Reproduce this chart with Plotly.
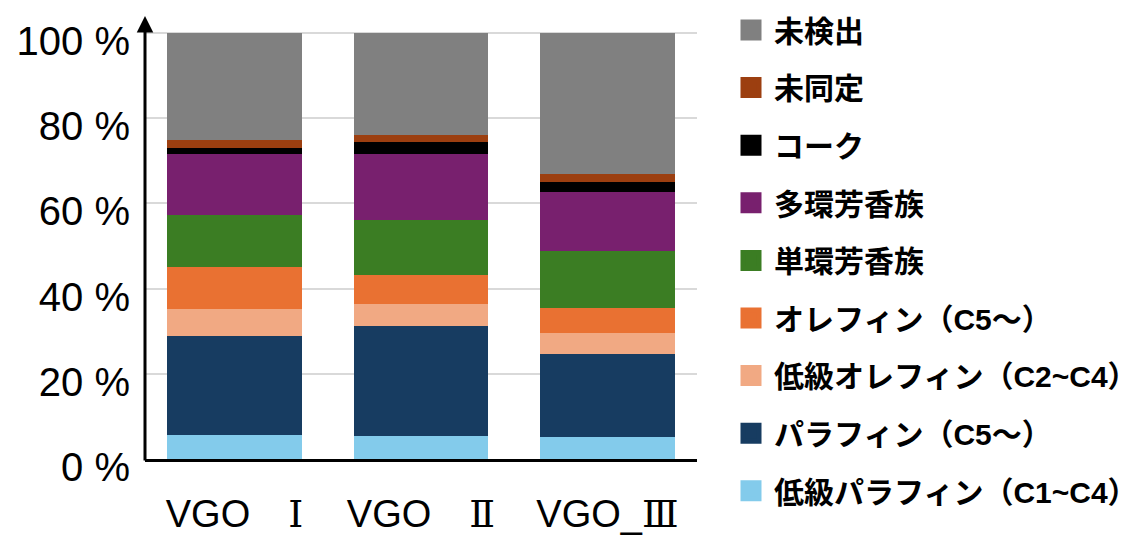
import plotly.graph_objects as go

# Feedstock categories (x axis)
categories = ["VGO　Ⅰ", "VGO　Ⅱ", "VGO_Ⅲ"]

# Product composition, % (bottom of stack first)
low_paraffin = [5.7, 5.4, 5.2]        # 低級パラフィン（C1~C4）
paraffin = [23.1, 25.8, 19.5]         # パラフィン（C5～）
low_olefin = [6.4, 5.2, 4.9]          # 低級オレフィン（C2~C4）
olefin = [9.8, 6.8, 5.8]              # オレフィン（C5～）
mono_aromatic = [12.3, 13.0, 13.4]    # 単環芳香族
poly_aromatic = [14.4, 15.5, 13.9]    # 多環芳香族
coke = [1.2, 2.7, 2.4]                # コーク
unidentified = [1.9, 1.6, 1.9]        # 未同定
undetected = [25.2, 24.0, 33.0]       # 未検出

series_names = [
    "低級パラフィン（C1~C4）",
    "パラフィン（C5～）",
    "低級オレフィン（C2~C4）",
    "オレフィン（C5～）",
    "単環芳香族",
    "多環芳香族",
    "コーク",
    "未同定",
    "未検出",
]
series_values = [
    low_paraffin, paraffin, low_olefin, olefin,
    mono_aromatic, poly_aromatic, coke, unidentified, undetected,
]
series_colors = [
    "#83CBEB", "#173C61", "#F1A983", "#E97132",
    "#3B7D23", "#78206E", "#000000", "#9C3F10", "#808080",
]

y_ticks = [0, 20, 40, 60, 80, 100]
y_tick_text = ["0 %", "20 %", "40 %", "60 %", "80 %", "100 %"]

# Category labels with serif Roman numerals
numeral_font = "font-family:'DejaVu Serif'"
x_tick_text = [
    f"VGO　<span style=\"{numeral_font}\">Ⅰ</span>",
    f"VGO　<span style=\"{numeral_font}\">Ⅱ</span>",
    f"VGO_<span style=\"{numeral_font}\">Ⅲ</span>",
]

fig = go.Figure()

# Stacked bars
for name, vals, color in zip(series_names, series_values, series_colors):
    fig.add_trace(go.Bar(
        x=categories, y=vals, name=name,
        marker=dict(color=color, line=dict(width=0)),
        showlegend=False,
    ))

# Legend entries (top of stack listed first), large square swatches
for i, (name, color) in enumerate(zip(series_names[::-1], series_colors[::-1])):
    fig.add_trace(go.Scatter(
        x=[None], y=[None], mode="markers", name=name,
        legendgroup=f"g{i}",
        marker=dict(symbol="square", size=16, color=color,
                    line=dict(color=color, width=5)),
        showlegend=True,
    ))

fig.update_layout(
    width=1142, height=535,
    margin=dict(l=145, r=445, t=16, b=76, autoexpand=False),
    paper_bgcolor="white", plot_bgcolor="white",
    barmode="stack", bargap=0.28,
    font=dict(family="Liberation Sans, Arial, sans-serif", color="black"),
    legend=dict(
        xref="container", yref="container",
        x=728 / 1142, xanchor="left",
        y=1 - 4 / 535, yanchor="top",
        traceorder="grouped",
        tracegroupgap=15.6,
        itemwidth=36,
        maxheight=535,
        font=dict(family="Liberation Sans, Noto Sans CJK JP", size=30,
                  color="black", weight="bold"),
        bgcolor="rgba(0,0,0,0)",
        itemclick=False,
    ),
    xaxis=dict(
        type="category",
        range=[-0.48, 2.48],
        tickvals=categories, ticktext=x_tick_text,
        tickfont=dict(size=38, family="Liberation Sans, Noto Sans CJK JP"),
        ticks="", ticklabelstandoff=19,
        showline=True, linecolor="black", linewidth=3,
        showgrid=False, zeroline=False, automargin=False,
    ),
    yaxis=dict(
        range=[0, 104],
        tickvals=y_ticks, ticktext=y_tick_text,
        tickfont=dict(size=40),
        ticks="", ticklabelstandoff=14, ticklabelshift=8,
        showline=False,
        showgrid=True, gridcolor="#D9D9D9", gridwidth=1.5,
        zeroline=False, automargin=False,
    ),
)

# Vertical axis drawn as an arrow pointing upward
fig.add_annotation(
    xref="paper", yref="paper", x=0, y=1,
    ax=0, ay=446, axref="pixel", ayref="pixel",
    showarrow=True, arrowhead=2, arrowsize=1.1, arrowwidth=3,
    arrowcolor="black", text="", standoff=0, startstandoff=0,
)

fig.write_html("out.html")
